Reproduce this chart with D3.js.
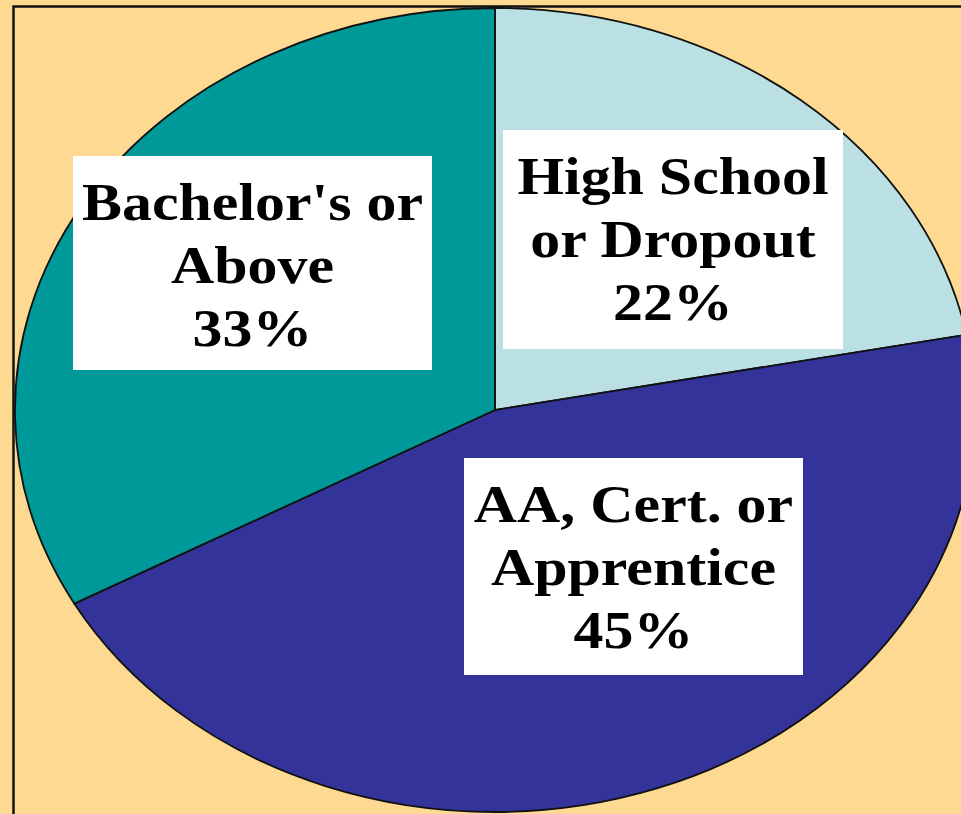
<!DOCTYPE html>
<html>
<head>
<meta charset="utf-8">
<script src="https://cdn.jsdelivr.net/npm/d3@7"></script>
<style>
  html, body { margin: 0; padding: 0; background: #fed991; overflow: hidden; }
  svg { display: block; }
</style>
</head>
<body>
<div id="chart"></div>
<script>
// education shares, clockwise from 12 o'clock
var categories = ["High School or Dropout", "AA, Cert. or Apprentice", "Bachelor's or Above"];
var shares = [22, 45, 33];
var labelLines = [
    ["High School", "or Dropout", "22%"],
    ["AA, Cert. or", "Apprentice", "45%"],
    ["Bachelor's or", "Above", "33%"]
];

var colors = ["#bae0e3", "#333399", "#009999"];

// label boxes, offsets from pie centre (x, y, w, h)
var labelBoxes = [
    [8, -280, 340, 219],
    [-31, 48, 339, 217],
    [-422, -254, 359, 214]
];

var width = 961, height = 814;
var cx = 495, cy = 410, rx = 480, ry = 402;

var svg = d3.select("#chart").append("svg")
    .attr("width", width)
    .attr("height", height);

svg.append("rect")
    .attr("width", width)
    .attr("height", height)
    .attr("fill", "#fed991");

// frame (only top and left are visible)
svg.append("rect")
    .attr("x", 13.5)
    .attr("y", 6.5)
    .attr("width", 1200)
    .attr("height", 1200)
    .attr("fill", "none")
    .attr("stroke", "#111")
    .attr("stroke-width", 2.5);

var pie = d3.pie().sort(null).value(function(d) { return d; });
var arc = d3.arc().innerRadius(0).outerRadius(ry);

var pieG = svg.append("g")
    .attr("transform", "translate(" + cx + "," + cy + ") scale(" + (rx / ry) + ",1)");

pieG.selectAll("path")
    .data(pie(shares))
    .enter()
    .append("path")
    .attr("d", arc)
    .attr("fill", function(d, i) { return colors[i]; })
    .attr("stroke", "#111")
    .attr("stroke-width", 1.8)
    .attr("vector-effect", "non-scaling-stroke");

var labels = svg.append("g")
    .attr("transform", "translate(" + cx + "," + cy + ")");

var lab = labels.selectAll(".lab")
    .data(categories)
    .enter()
    .append("g")
    .attr("class", "lab");

lab.append("rect")
    .attr("x", function(d, i) { return labelBoxes[i][0]; })
    .attr("y", function(d, i) { return labelBoxes[i][1]; })
    .attr("width", function(d, i) { return labelBoxes[i][2]; })
    .attr("height", function(d, i) { return labelBoxes[i][3]; })
    .attr("fill", "#fff");

lab.each(function(d, i) {
    var b = labelBoxes[i];
    var mid = b[0] + b[2] / 2;
    var t = d3.select(this).append("text")
        .attr("transform", "translate(" + mid + "," + (b[1] + 64) + ") scale(1.13,1)")
        .attr("text-anchor", "middle")
        .style("font-family", "'Liberation Serif', 'Times New Roman', serif")
        .style("font-weight", "bold")
        .style("font-size", "53px")
        .attr("fill", "#000");
    labelLines[i].forEach(function(line, j) {
        t.append("tspan")
            .attr("x", 0)
            .attr("y", j * 63)
            .text(line);
    });
});
</script>
</body>
</html>
